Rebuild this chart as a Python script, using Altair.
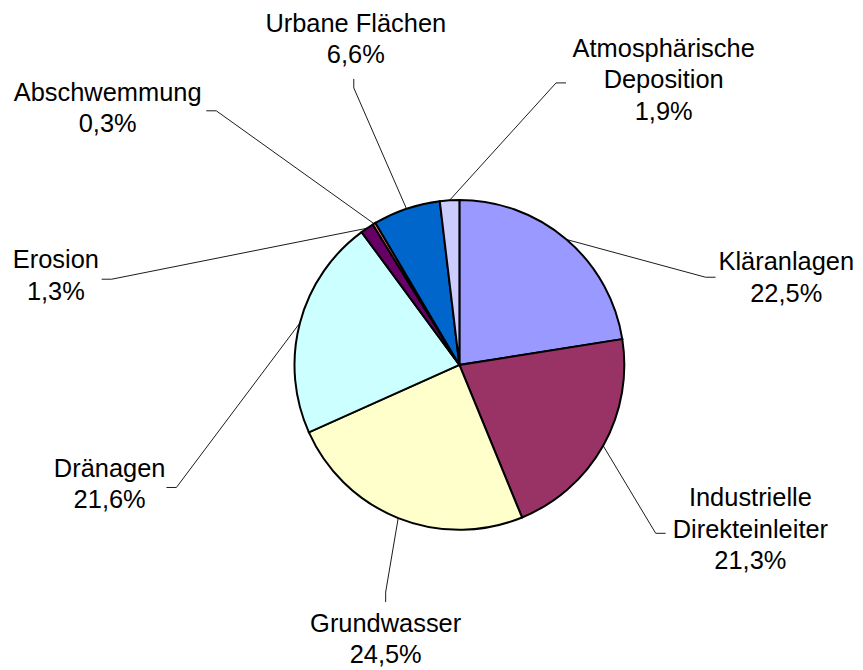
import altair as alt
import numpy as np
import pandas as pd

# ---- data ----
names = ["Kläranlagen", "Industrielle\nDirekteinleiter", "Grundwasser", "Dränagen",
         "Erosion", "Abschwemmung", "Urbane Flächen", "Atmosphärische\nDeposition"]
shares = [22.5, 21.3, 24.5, 21.6, 1.3, 0.3, 6.6, 1.9]
colors = ["#9999FF", "#993366", "#FFFFCC", "#CCFFFF", "#660066", "#FF8080", "#0066CC", "#CCCCFF"]

# ---- layout (pixel offsets from pie centre, x right, y down) ----
label_off = [(328, -95), (292, 142), (-74, 268), (-351, 112),
             (-405, -97), (-353, -265), (-104, -334), (205, -309)]
elbow_off = [(247, -88), (197, 169), (-74, 228), (-284, 123),
             (-349, -86), (-244, -255), (-106, -278), (97, -283)]
end_off = [(257, -88), (207, 169), (-74, 238), (-294, 123),
           (-359, -86), (-254, -255), (-106, -287), (107, -283)]

R = 165.5
W, H = 847, 654
CX, CY = 453, 357
xdom = [-CX / R, (W - CX) / R]
ydom = [-(H - CY) / R, CY / R]
xs = alt.Scale(domain=xdom, nice=False, zero=False)
ys = alt.Scale(domain=ydom, nice=False, zero=False)

sh = np.array(shares)
mid = (np.cumsum(sh) - sh / 2) / sh.sum() * 2 * np.pi

pie = pd.DataFrame({"idx": range(len(names)), "name": names, "share": shares})

rows = []
for i, n in enumerate(names):
    rows.append({"name": n, "step": 0, "x": float(np.sin(mid[i])), "y": float(np.cos(mid[i]))})
    rows.append({"name": n, "step": 1, "x": elbow_off[i][0] / R, "y": -elbow_off[i][1] / R})
    rows.append({"name": n, "step": 2, "x": end_off[i][0] / R, "y": -end_off[i][1] / R})
lines = pd.DataFrame(rows)

labels = pd.DataFrame({
    "name": names,
    "text": [f"{n}\n{v:.1f}%".replace(".", ",") for n, v in zip(names, shares)],
    "x": [o[0] / R for o in label_off],
    "y": [-o[1] / R for o in label_off],
})

arcs = alt.Chart(pie).mark_arc(stroke="black", strokeWidth=2, radius=R).encode(
    theta=alt.Theta("share:Q", stack=True),
    order=alt.Order("idx:Q"),
    color=alt.Color("name:N", scale=alt.Scale(domain=names, range=colors), legend=None),
    x=alt.XDatum(0, type="quantitative", scale=xs, axis=None),
    y=alt.YDatum(0, type="quantitative", scale=ys, axis=None),
)

leaders = alt.Chart(lines).mark_line(color="black", strokeWidth=0.9).encode(
    x=alt.X("x:Q", scale=xs, axis=None),
    y=alt.Y("y:Q", scale=ys, axis=None),
    detail="name:N",
    order="step:Q",
)

texts = alt.Chart(labels).mark_text(
    font="Liberation Sans", fontSize=25.5, lineHeight=31.5, lineBreak="\n",
    align="center", baseline="alphabetic", color="black",
).encode(
    x=alt.X("x:Q", scale=xs, axis=None),
    y=alt.Y("y:Q", scale=ys, axis=None),
    text="text:N",
)

chart = alt.layer(leaders, arcs, texts).properties(
    width=W, height=H, padding=0
).configure_view(stroke=None)

chart.save("out.html", embed_options={"renderer": "svg", "actions": False})
